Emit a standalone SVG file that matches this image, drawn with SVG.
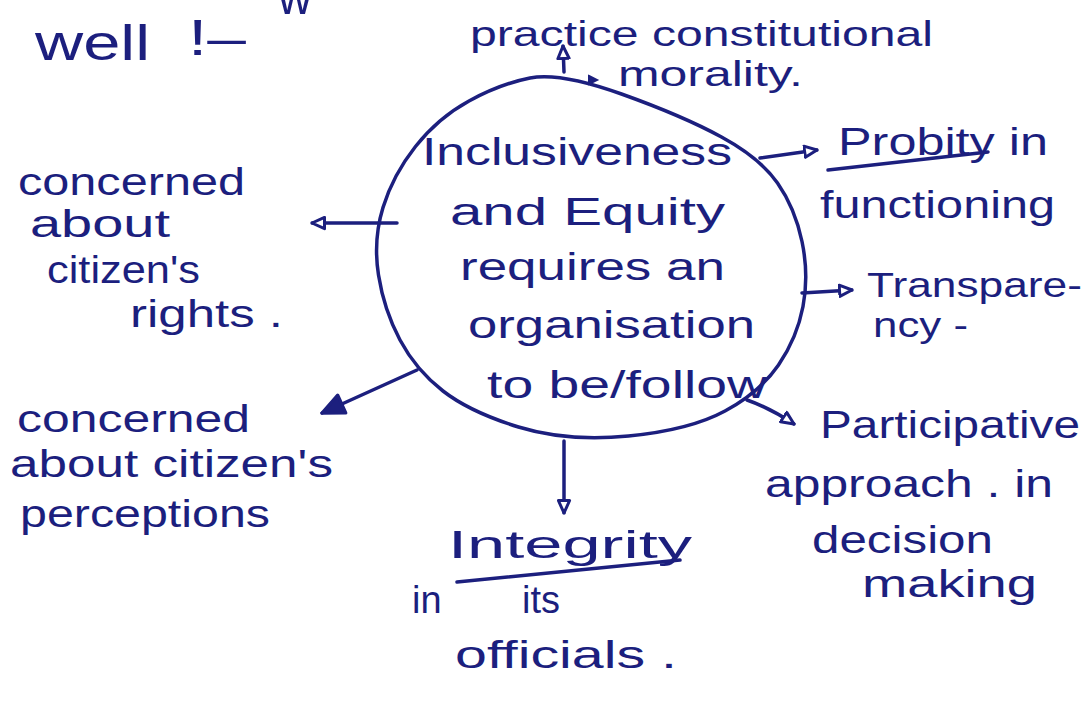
<svg xmlns="http://www.w3.org/2000/svg" width="1086" height="704" viewBox="0 0 1086 704">
  <style>
    .ink { fill: #1c1f7e; font-family: "Liberation Sans", "DejaVu Sans", sans-serif; font-size: 38px; }
    .mid { font-size: 38px; }
    .sm { font-size: 35px; }
    .big { font-size: 50px; }
    .pen { fill: none; stroke: #1c1f7e; stroke-width: 3.5; stroke-linecap: round; stroke-linejoin: round; }
  </style>
  <defs>
    <marker id="open" viewBox="0 0 12 12" refX="11" refY="6" markerWidth="15" markerHeight="15" markerUnits="userSpaceOnUse" orient="auto">
      <path d="M1,1.5 L11,6 L1,10.5 Z" fill="#ffffff" stroke="#1c1f7e" stroke-width="2.4" stroke-linejoin="round"/>
    </marker>
    <marker id="solid" viewBox="0 0 12 12" refX="11" refY="6" markerWidth="26" markerHeight="26" markerUnits="userSpaceOnUse" orient="auto">
      <path d="M1,1.5 L11,6 L1,10.5 Z" fill="#1c1f7e" stroke="#1c1f7e" stroke-width="1.5" stroke-linejoin="round"/>
    </marker>
  </defs>

  <rect width="1086" height="704" fill="#ffffff"/>

  <!-- heading fragment -->
  <g id="heading">
    <text class="ink big" x="35" y="60" textLength="115" lengthAdjust="spacingAndGlyphs">well</text>
    <text class="ink big" x="188" y="55" textLength="58" lengthAdjust="spacingAndGlyphs">!–</text>
    <text class="ink big" x="278" y="14" textLength="34" lengthAdjust="spacingAndGlyphs">w</text>
  </g>

  <!-- connectors -->
  <g id="connectors">
    <line class="pen" x1="564" y1="72" x2="563" y2="46" marker-end="url(#open)"/>
    <path d="M589,76 L597,80 L589,84 Z" fill="#1c1f7e" stroke="#1c1f7e" stroke-width="2"/>
    <line class="pen" x1="760" y1="158" x2="817" y2="150" marker-end="url(#open)"/>
    <line class="pen" x1="802" y1="293" x2="852" y2="290" marker-end="url(#open)"/>
    <path class="pen" d="M747,400 Q770,408 794,424" marker-end="url(#open)"/>
    <line class="pen" x1="564" y1="441" x2="564" y2="513" marker-end="url(#open)"/>
    <line class="pen" x1="417" y1="370" x2="322" y2="413" marker-end="url(#solid)"/>
    <line class="pen" x1="397" y1="223" x2="312" y2="223" marker-end="url(#open)"/>
  </g>

  <!-- central idea -->
  <g id="centre">
    <path class="pen" d="M621.5,94 Q683,116 721.5,137 Q760,158 777.5,183 Q795,208 802,241.5 Q809,275 803,306.5 Q797,338 778.5,365 Q760,392 725,411 Q690,430 628.5,436 Q567,442 518.5,427 Q470,412 443,391 Q416,370 400,340 Q384,310 378.5,275 Q373,240 383,207.5 Q393,175 415.5,146.5 Q438,118 469,101 Q500,84 530,78 Q560,72 621.5,94 Z"/>
    <text class="ink mid" x="422" y="165" textLength="310" lengthAdjust="spacingAndGlyphs">Inclusiveness</text>
    <text class="ink mid" x="450" y="225" textLength="275" lengthAdjust="spacingAndGlyphs">and Equity</text>
    <text class="ink mid" x="460" y="280" textLength="265" lengthAdjust="spacingAndGlyphs">requires an</text>
    <text class="ink mid" x="468" y="338" textLength="287" lengthAdjust="spacingAndGlyphs">organisation</text>
    <text class="ink mid" x="487" y="398" textLength="280" lengthAdjust="spacingAndGlyphs">to be/follow</text>
  </g>

  <g id="morality">
    <text class="ink sm" x="470" y="46" textLength="463" lengthAdjust="spacingAndGlyphs">practice constitutional</text>
    <text class="ink sm" x="618" y="86" textLength="185" lengthAdjust="spacingAndGlyphs">morality.</text>
  </g>

  <g id="probity">
    <text class="ink" x="838" y="155" textLength="210" lengthAdjust="spacingAndGlyphs">Probity in</text>
    <line class="pen" x1="828" y1="170" x2="988" y2="152"/>
    <text class="ink" x="820" y="218" textLength="235" lengthAdjust="spacingAndGlyphs">functioning</text>
  </g>

  <g id="transparency">
    <text class="ink sm" x="867" y="297" textLength="215" lengthAdjust="spacingAndGlyphs">Transpare-</text>
    <text class="ink sm" x="873" y="337" textLength="95" lengthAdjust="spacingAndGlyphs">ncy -</text>
  </g>

  <g id="participative">
    <text class="ink" x="820" y="438" textLength="260" lengthAdjust="spacingAndGlyphs">Participative</text>
    <text class="ink" x="765" y="497" textLength="288" lengthAdjust="spacingAndGlyphs">approach . in</text>
    <text class="ink" x="812" y="553" textLength="181" lengthAdjust="spacingAndGlyphs">decision</text>
    <text class="ink" x="862" y="597" textLength="175" lengthAdjust="spacingAndGlyphs">making</text>
  </g>

  <g id="integrity">
    <text class="ink mid" x="448" y="558" textLength="244" lengthAdjust="spacingAndGlyphs">Integrity</text>
    <line class="pen" x1="457" y1="582" x2="680" y2="560"/>
    <text class="ink mid" y="613"><tspan x="412">in</tspan><tspan x="522">its</tspan></text>
    <text class="ink" x="455" y="668" textLength="222" lengthAdjust="spacingAndGlyphs">officials .</text>
  </g>

  <g id="rights">
    <text class="ink" x="18" y="195" textLength="227" lengthAdjust="spacingAndGlyphs">concerned</text>
    <text class="ink" x="30" y="237" textLength="140" lengthAdjust="spacingAndGlyphs">about</text>
    <text class="ink" x="47" y="283" textLength="153" lengthAdjust="spacingAndGlyphs">citizen's</text>
    <text class="ink" x="130" y="327" textLength="153" lengthAdjust="spacingAndGlyphs">rights .</text>
  </g>

  <g id="perceptions">
    <text class="ink" x="17" y="432" textLength="233" lengthAdjust="spacingAndGlyphs">concerned</text>
    <text class="ink" x="10" y="477" textLength="323" lengthAdjust="spacingAndGlyphs">about citizen's</text>
    <text class="ink" x="20" y="527" textLength="250" lengthAdjust="spacingAndGlyphs">perceptions</text>
  </g>
</svg>
